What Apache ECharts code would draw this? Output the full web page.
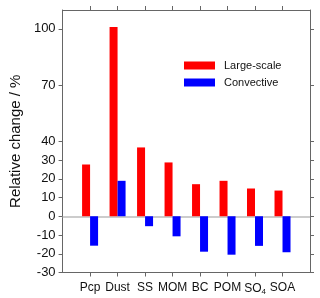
<!DOCTYPE html>
<html><head><meta charset="utf-8">
<script src="https://cdn.jsdelivr.net/npm/echarts@6/dist/echarts.min.js"></script>
<style>html,body{margin:0;padding:0;background:#fff}#c{width:320px;height:298px}</style>
</head><body><div id="c"></div>
<script>
const categories = ['Pcp','Dust','SS','MOM','BC','POM','SO4','SOA'];
const largeScale = [27.6, 101, 36.7, 28.7, 17.1, 18.9, 14.8, 13.7];
const convective = [-15.7, 18.9, -5.3, -10.7, -18.9, -20.5, -15.8, -19.2];
const yTicks = [-30,-20,-10,0,10,20,30,40,70,100];
const seriesNames = ['Large-scale','Convective'];

const cats = [''].concat(categories, ['']);
const pad = a => [null].concat(a, [null]);
const frame = '#666';
const tickFn = (i, v) => v !== '';
const xBase = {
  type:'category', data:cats, boundaryGap:false,
  axisLine:{show:true,onZero:false,lineStyle:{color:frame,width:1}},
  axisTick:{show:true,length:4,interval:tickFn,lineStyle:{color:frame}},
  splitLine:{show:false}
};
const yBase = {
  type:'value', min:-30, max:110, interval:10,
  axisLine:{show:true,onZero:false,lineStyle:{color:frame,width:1}},
  axisTick:{show:true,length:4,customValues:yTicks,lineStyle:{color:frame}},
  splitLine:{show:false}
};
const chart = echarts.init(document.getElementById('c'), null, {renderer:'canvas'});
chart.setOption({
  animation:false,
  grid:{left:49,right:10,top:10,bottom:25.5,containLabel:false},
  legend:{
    orient:'vertical', left:179, top:55, itemWidth:31, itemHeight:8, itemGap:6,
    icon:'rect', textStyle:{fontSize:11,color:'#111',fontFamily:'Liberation Sans, Arial, sans-serif',padding:[0,0,0,4]},
    data:seriesNames
  },
  xAxis:[
    Object.assign({}, xBase, {position:'bottom',
      axisLabel:{show:true,interval:0,margin:9,color:'#111',fontSize:12,fontFamily:'Liberation Sans, Arial, sans-serif',
        formatter:v => v === 'SO4' ? '{n|SO}{s|4}' : v,
        rich:{n:{fontSize:12,color:'#111'},s:{fontSize:8,color:'#111',padding:[6,0,0,0]}}}}),
    Object.assign({}, xBase, {position:'top',axisLabel:{show:false}})
  ],
  yAxis:[
    Object.assign({}, yBase, {position:'left',
      name:'Relative change / %', nameLocation:'middle', nameGap:34,
      nameTextStyle:{fontSize:15,color:'#111',fontFamily:'Liberation Sans, Arial, sans-serif'},
      axisLabel:{show:true,customValues:yTicks,margin:7,color:'#111',fontSize:13,fontFamily:'Liberation Sans, Arial, sans-serif'}}),
    Object.assign({}, yBase, {position:'right',axisLabel:{show:false}})
  ],
  series:[
    {name:seriesNames[0], type:'bar', data:pad(largeScale), barWidth:8, barGap:'0%', z:3,
      itemStyle:{color:'#ff0000'},
      markLine:{silent:true,symbol:'none',z:1,label:{show:false},lineStyle:{color:'#bbb',width:1.5,type:'solid'},data:[{yAxis:0}]}},
    {name:seriesNames[1], type:'bar', data:pad(convective), barWidth:8, barGap:'0%', z:3,
      itemStyle:{color:'#0000ff'}}
  ]
});
</script></body></html>
